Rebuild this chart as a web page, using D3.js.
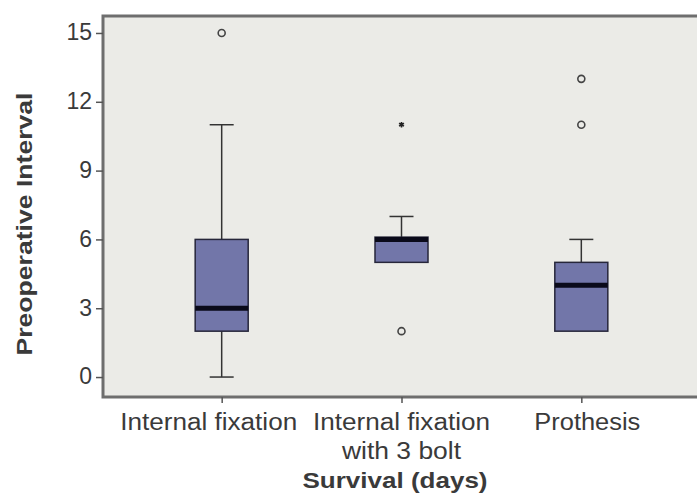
<!DOCTYPE html>
<html>
<head>
<meta charset="utf-8">
<script src="https://cdn.jsdelivr.net/npm/d3@7"></script>
<style>
  html, body { margin: 0; padding: 0; background: #ffffff; }
  svg { display: block; }
  text { font-family: "Liberation Sans", Arial, Helvetica, sans-serif; fill: #3a3a3a; }
</style>
</head>
<body>
<svg id="chart" width="697" height="495"></svg>
<script>
// Preoperative interval by fixation method
const categories   = ["Internal fixation", "Internal fixation\nwith 3 bolt", "Prothesis"];
const whiskerLow   = [0, 5, 2];
const q1           = [2, 5, 2];
const median       = [3, 6, 4];
const q3           = [6, 6.1, 5];
const whiskerHigh  = [11, 7, 6];
const outliers     = [[15], [2], [11, 13]];   // circles
const extremes     = [[], [11], []];          // asterisks
const yTicks       = [0, 3, 6, 9, 12, 15];

const svg = d3.select("#chart");
const plot = { left: 103, top: 16, right: 700, bottom: 397 };

const x = d3.scalePoint()
  .domain(categories)
  .range([plot.left, plot.right])
  .padding(0.66);

const y = d3.scaleLinear()
  .domain([-0.87, 15.74])
  .range([plot.bottom, plot.top]);

// plot background and frame
svg.append("rect")
  .attr("x", plot.left).attr("y", plot.top)
  .attr("width", plot.right - plot.left).attr("height", plot.bottom - plot.top)
  .attr("fill", "#ebebe7")
  .attr("stroke", "#6e6e6e").attr("stroke-width", 3);

// y axis
const yAxis = d3.axisLeft(y).tickValues(yTicks).tickSize(7).tickPadding(4);
const gy = svg.append("g").attr("transform", `translate(${plot.left},0)`).call(yAxis);
gy.select(".domain").remove();
gy.selectAll(".tick line").attr("stroke", "#555").attr("stroke-width", 1.5);
gy.selectAll(".tick text")
  .style("font-size", "23px")
  .attr("dy", "0.3em")
  .style("fill", "#3a3a3a");

// x axis
const xAxis = d3.axisBottom(x).tickSize(6).tickPadding(4).tickFormat("");
const gx = svg.append("g").attr("transform", `translate(0,${plot.bottom})`).call(xAxis);
gx.select(".domain").remove();
gx.selectAll(".tick line").attr("stroke", "#555").attr("stroke-width", 1.5);

// category labels (may wrap on two lines), nudged apart so they don't touch
const labelWidths  = { "Internal fixation": 177, "with 3 bolt": 119, "Prothesis": 106 };
const labelNudge   = [-13, 0, 6];
categories.forEach((c, ci) => {
  const lines = c.split("\n");
  lines.forEach((ln, i) => {
    svg.append("text")
      .attr("x", x(c) + labelNudge[ci])
      .attr("y", 430 + i * 29)
      .attr("text-anchor", "middle")
      .attr("textLength", labelWidths[ln])
      .attr("lengthAdjust", "spacingAndGlyphs")
      .style("font-size", "23px")
      .text(ln);
  });
});

// axis titles
svg.append("text")
  .attr("x", 395).attr("y", 488)
  .attr("text-anchor", "middle")
  .attr("textLength", 185)
  .attr("lengthAdjust", "spacingAndGlyphs")
  .style("font-size", "22px").style("font-weight", "bold")
  .text("Survival (days)");

svg.append("text")
  .attr("transform", "translate(32,224) rotate(-90)")
  .attr("text-anchor", "middle")
  .attr("textLength", 263)
  .attr("lengthAdjust", "spacingAndGlyphs")
  .style("font-size", "22px").style("font-weight", "bold")
  .text("Preoperative Interval");

// boxes
const boxW = 53, capW = 24;
const g = svg.append("g");
categories.forEach((c, i) => {
  const cx = x(c);
  // whiskers
  [[q3[i], whiskerHigh[i]], [whiskerLow[i], q1[i]]].forEach(([a, b]) => {
    if (a === b) return;
    g.append("line")
      .attr("x1", cx).attr("x2", cx)
      .attr("y1", y(a)).attr("y2", y(b))
      .attr("stroke", "#333").attr("stroke-width", 1.5);
  });
  [whiskerHigh[i], whiskerLow[i]].forEach((v, k) => {
    if ((k === 0 && v === q3[i]) || (k === 1 && v === q1[i])) return;
    g.append("line")
      .attr("x1", cx - capW / 2).attr("x2", cx + capW / 2)
      .attr("y1", y(v)).attr("y2", y(v))
      .attr("stroke", "#333").attr("stroke-width", 1.5);
  });
  // box
  g.append("rect")
    .attr("x", cx - boxW / 2).attr("width", boxW)
    .attr("y", y(q3[i])).attr("height", y(q1[i]) - y(q3[i]))
    .attr("fill", "#7276a9")
    .attr("stroke", "#26263a").attr("stroke-width", 1.5);
  // median
  g.append("line")
    .attr("x1", cx - boxW / 2).attr("x2", cx + boxW / 2)
    .attr("y1", y(median[i])).attr("y2", y(median[i]))
    .attr("stroke", "#0a0a1a").attr("stroke-width", 5);
  // outliers
  outliers[i].forEach(v => {
    g.append("circle")
      .attr("cx", cx).attr("cy", y(v)).attr("r", 3.5)
      .attr("fill", "none").attr("stroke", "#444").attr("stroke-width", 1.6);
  });
  extremes[i].forEach(v => {
    g.append("path")
      .attr("d", d3.symbol(d3.symbolAsterisk, 22)())
      .attr("transform", `translate(${cx},${y(v)})`)
      .attr("fill", "none").attr("stroke", "#222").attr("stroke-width", 1.6);
  });
});
</script>
</body>
</html>
